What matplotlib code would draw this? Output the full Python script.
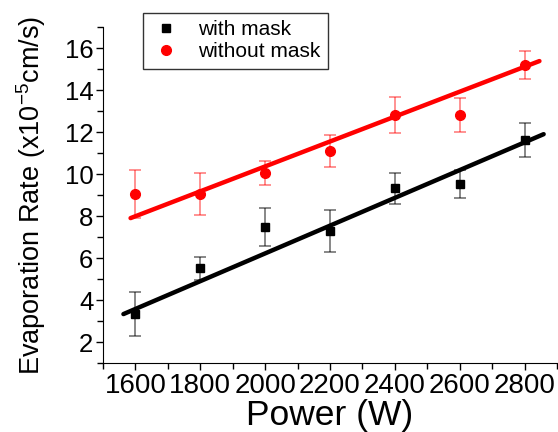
import numpy as np
import matplotlib
matplotlib.use("Agg")
import matplotlib.pyplot as plt
from matplotlib.lines import Line2D
from matplotlib.ticker import MultipleLocator

plt.rcParams['font.family'] = ['Liberation Sans', 'DejaVu Sans']
plt.rcParams['mathtext.fontset'] = 'custom'
plt.rcParams['mathtext.rm'] = 'Liberation Sans'
plt.rcParams['mathtext.it'] = 'Liberation Sans'

# data
power = np.array([1600, 1800, 2000, 2200, 2400, 2600, 2800])
with_mask = np.array([3.33, 5.52, 7.48, 7.29, 9.33, 9.52, 11.62])
with_mask_err = np.array([1.05, 0.55, 0.9, 1.0, 0.74, 0.66, 0.81])
without_mask = np.array([9.05, 9.05, 10.05, 11.1, 12.81, 12.8, 15.19])
without_mask_err = np.array([1.15, 1.0, 0.55, 0.76, 0.88, 0.8, 0.67])

# linear fits (slope, intercept) and their x ranges
with_fit = (0.00661, 3.33 - 0.00661 * 1563)
with_fit_x = [1563, 2859]
without_fit = (0.00593, 7.9 - 0.00593 * 1585)
without_fit_x = [1585, 2846]

fig = plt.figure(figsize=(5.58, 4.32), dpi=100)
ax = fig.add_axes([0.1846, 0.1597, 0.8135, 0.7778])

# fitted lines
for (k, b), xr, c in [(with_fit, with_fit_x, 'black'), (without_fit, without_fit_x, 'red')]:
    xs = np.array(xr)
    ax.plot(xs, k * xs + b, color=c, lw=3.2, solid_capstyle='round', zorder=3)

ax.errorbar(power, with_mask, yerr=with_mask_err, fmt='none', ecolor='black',
            alpha=0.55, elinewidth=1.2, capsize=4, capthick=1.2, zorder=2)
ax.errorbar(power, without_mask, yerr=without_mask_err, fmt='none', ecolor='red',
            alpha=0.5, elinewidth=1.2, capsize=4, capthick=1.2, zorder=2)
ax.plot(power, with_mask, 's', color='black', ms=6, zorder=4)
ax.plot(power, without_mask, 'o', color='red', ms=7, zorder=4)

ax.set_xlim(1500, 2900)
ax.set_ylim(1, 17)
ax.xaxis.set_major_locator(MultipleLocator(200))
ax.xaxis.set_minor_locator(MultipleLocator(100))
ax.yaxis.set_major_locator(MultipleLocator(2))
ax.yaxis.set_minor_locator(MultipleLocator(1))
ax.spines['top'].set_visible(False)
ax.spines['right'].set_visible(False)
ax.tick_params(which='major', length=5, width=1, pad=2)
ax.tick_params(which='minor', length=4, width=1)
ax.tick_params(axis='x', labelsize=20)
ax.tick_params(axis='y', labelsize=18.5)

ax.set_xlabel('Power (W)', fontsize=25.5, labelpad=0)
ax.set_ylabel(r'Evaporation Rate (x10$^{-5}$cm/s)', fontsize=19.5, labelpad=12)

handles = [Line2D([], [], ls='none', marker='s', color='black', ms=6),
           Line2D([], [], ls='none', marker='o', color='red', ms=7)]
leg = ax.legend(handles, ['with mask', 'without mask'], loc='upper left',
                bbox_to_anchor=(0.256, 0.97), bbox_transform=fig.transFigure,
                fontsize=15, frameon=True, fancybox=False, edgecolor='black',
                handlelength=1.5, handletextpad=0.8, borderpad=0.35,
                labelspacing=0.15, borderaxespad=0)
leg.get_frame().set_linewidth(1.0)

fig.savefig('out.png', dpi=100)
